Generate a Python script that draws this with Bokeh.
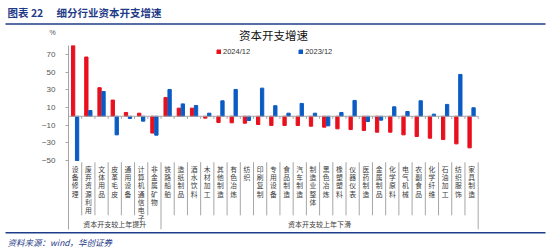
from bokeh.plotting import figure
from bokeh.layouts import column
from bokeh.models import Range1d, FixedTicker, Legend, LegendItem, ColumnDataSource
from bokeh.core.properties import value
from bokeh.transform import dodge
from bokeh.embed import file_html
from bokeh.resources import INLINE

# 细分行业资本开支增速（%）
categories = ["设备修理", "废弃资源利用", "文体用品", "皮革毛皮", "通用设备", "计算机通信电子",
              "非金属矿物", "铁路船舶", "造纸制品", "酒水饮料", "木材加工", "其他制造", "有色冶炼",
              "纺织", "印刷复制", "专用设备", "食品制造", "汽车制造", "制造业整体", "黑色冶炼",
              "橡塑塑料", "仪器仪表", "医药制造", "金属制品", "化学原料", "电气机械", "农副食品",
              "化学纤维", "石油加工", "纺织服饰", "家具制造"]
capex_2024 = [80, 67, 32.3, 18.3, 4.3, 3.5, -19, 21.3, 9.2, 9.2, -2.1, -7, -7.4, -7.8, -9.3,
              -10.4, -10.4, -10.4, -11.2, -12.3, -14.2, -15, -16, -18, -18, -21, -22.9, -24.8,
              -26.3, -31.2, -35.7]
capex_2023 = [-50, 6.5, 28, -21, -2.5, -5.5, -21.4, 30.3, 14, 12.2, 3.5, 17.5, 30.3, -4.8, 31.8,
              11.9, 3.5, 14.5, 3.5, -10.8, 4.3, 17.9, -5.9, -4.4, 10.7, 5.4, 17.5, 2.4, 13.4,
              47.3, 9.6]
series_names = ["2024/12", "2023/12"]
group_names = ["资本开支较上年提升", "资本开支较上年下滑"]
group_sizes = [7, 24]
y_ticks = [70, 50, 30, 10, -10, -30, -50]

RED = "#E8101E"
BLUE = "#0A5BC4"
NAVY = "#1F3C88"
GRAY = "#A6A6A6"
CJK = "Noto Sans CJK SC"
W = 550


def strip(fig):
    fig.outline_line_color = None
    fig.xgrid.visible = False
    fig.ygrid.visible = False
    fig.background_fill_color = "white"
    fig.border_fill_color = "white"
    fig.frame_align = False
    return fig


def banner(h):
    # a plain drawing strip whose data units are pixels (y grows downward)
    return strip(figure(width=W, height=h, output_backend="svg", toolbar_location=None,
                        x_range=Range1d(0, W), y_range=Range1d(h, 0),
                        x_axis_location=None, y_axis_location=None,
                        min_border_left=0, min_border_right=0,
                        min_border_top=0, min_border_bottom=0))


# ---- header strip: report caption, rule, chart title and unit ----
HH = 44
head = banner(HH)
head.text(x=[7], y=[12], text=["图表 22"], text_font=value(CJK), text_font_size="10.5px",
          text_font_style="bold", text_baseline="middle", text_color=NAVY)
head.text(x=[56], y=[12], text=["细分行业资本开支增速"], text_font=value(CJK),
          text_font_size="10.5px", text_font_style="bold", text_baseline="middle",
          text_color=NAVY)
head.segment(x0=[5], y0=[23.5], x1=[W - 5], y1=[23.5], line_color=NAVY, line_width=1.5)
head.text(x=[52], y=[32], text=["%"], text_font=value("Liberation Sans"),
          text_font_size="7px", text_align="center", text_baseline="middle",
          text_color="#555555")
head.text(x=[273], y=[34], text=["资本开支增速"], text_font=value(CJK),
          text_font_size="11.5px", text_align="center", text_baseline="middle",
          text_color="#111111")

# ---- main chart ----
n = len(categories)
centers = [i + 0.5 for i in range(n)]

p = strip(figure(width=W, height=187, output_backend="svg", toolbar_location=None,
                 x_range=Range1d(0, n + 0.1), y_range=Range1d(-128, 80),
                 x_axis_location=None, min_border_left=68, min_border_right=71,
                 min_border_top=1, min_border_bottom=2))

yax = p.yaxis[0]
yax.ticker = FixedTicker(ticks=y_ticks)
yax.minor_tick_line_color = None
yax.major_tick_in = 0
yax.major_tick_out = 3
yax.major_tick_line_color = GRAY
yax.axis_line_color = GRAY
yax.major_label_standoff = 10
yax.major_label_text_font = "Liberation Sans"
yax.major_label_text_font_size = "8px"
yax.major_label_text_color = "#555555"

src = ColumnDataSource(dict(x=centers, a=capex_2024, b=capex_2023))
bw = 0.25
r_a = p.vbar(x=dodge("x", -0.15), top="a", bottom=0, width=bw, source=src, color=RED)
r_b = p.vbar(x=dodge("x", 0.15), top="b", bottom=0, width=bw, source=src, color=BLUE)

# zero line with ticks on category boundaries
p.segment(x0=[0], y0=[0], x1=[n], y1=[0], line_color=GRAY, line_width=1)
bounds = list(range(1, n + 1))
p.segment(x0=bounds, y0=[0] * n, x1=bounds, y1=[-3] * n, line_color=GRAY, line_width=1)

# category labels, stacked vertically
p.text(x=centers, y=[-54] * n, text=["\n".join(c) for c in categories],
       text_font=value(CJK), text_font_size="6.8px", text_align="center",
       text_baseline="top", text_line_height=0.82, text_color="#3a3a3a")

# separators between categories, longer ones between groups
group_ends = []
acc = 0
for g in group_sizes:
    acc += g
    group_ends.append(acc)
short = [k for k in bounds if k not in group_ends]
p.segment(x0=short, y0=[-52] * len(short), x1=short, y1=[-112] * len(short),
          line_color=GRAY, line_width=1)
p.segment(x0=group_ends, y0=[-52] * len(group_ends), x1=group_ends,
          y1=[-128] * len(group_ends), line_color=GRAY, line_width=1)

# group captions
starts = [0] + group_ends[:-1]
gx = [(s + e) / 2 for s, e in zip(starts, group_ends)]
p.text(x=gx, y=[-122.3] * len(gx), text=group_names, text_font=value(CJK),
       text_font_size="7px", text_align="center", text_baseline="middle",
       text_color="#3a3a3a")

legend = Legend(items=[LegendItem(label=series_names[0], renderers=[r_a]),
                       LegendItem(label=series_names[1], renderers=[r_b])],
                orientation="horizontal", location=(148, 173.5), padding=0, margin=0,
                spacing=48, glyph_width=5, glyph_height=5, label_height=9,
                label_standoff=2, label_text_font="Liberation Sans",
                label_text_font_size="7.5px", label_text_color="#333333",
                border_line_color=None, background_fill_alpha=0)
p.add_layout(legend)

# ---- footer strip: rule and source ----
FH = 18
foot = banner(FH)
foot.segment(x0=[5], y0=[1.3], x1=[W - 5], y1=[1.3], line_color=NAVY, line_width=1.5)
foot.text(x=[7], y=[10], text=["资料来源：wind，华创证券"], text_font=value(CJK),
          text_font_size="8.5px", text_font_style="italic", text_baseline="middle",
          text_color=NAVY)

page = column(head, p, foot, spacing=0)
open("out.html", "w").write(file_html(page, INLINE))
